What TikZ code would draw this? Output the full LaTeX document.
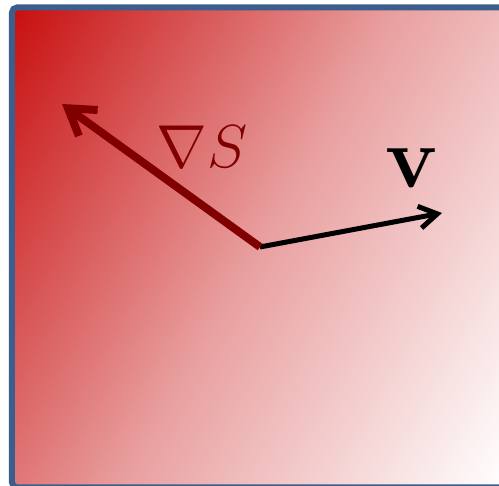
\documentclass[tikz,border=0pt]{standalone}
\usepackage{amsmath}
\usepackage{xcolor}
\usepackage{tikz}
\usetikzlibrary{arrows.meta}
\definecolor{framecol}{RGB}{59,94,140}
\definecolor{gradred}{RGB}{200,16,16}
\definecolor{gradarrow}{RGB}{128,0,0}
% ramp over the whole square once it is turned by 60 degrees
\pgfdeclareverticalshading{fieldshade}{100bp}{color(0bp)=(white); color(16bp)=(white); color(50bp)=(gradred!40); color(84bp)=(gradred); color(100bp)=(gradred)}

\begin{document}
\begin{tikzpicture}
\useasboundingbox (0,0) rectangle (4.99,4.86);
\clip (0,0) rectangle (4.99,4.86);
% field: red towards upper left, fading to white
\shade[shading=fieldshade, shading angle=60] (0.12,-0.015) rectangle (5.05,4.785);
\draw[framecol, line width=0.06cm, rounded corners=0.05cm] (0.12,-0.015) rectangle (5.05,4.785);
\coordinate (o) at (2.60,2.39);
\coordinate (gradtip) at (0.62,3.82);
\coordinate (vtip) at (4.42,2.73);
\draw[black, line width=0.05cm, -{Straight Barb[length=0.18cm,width=0.22cm]}] (o) -- (vtip);
\draw[gradarrow, line width=0.08cm, -{Straight Barb[length=0.25cm,width=0.32cm]}] (o) -- (gradtip);
\node[gradarrow, font=\fontsize{19}{23}\selectfont] (gradlabel) at (2.02,3.39) {$\nabla S$};
\node[font=\fontsize{24}{28}\selectfont] (vlabel) at (4.12,3.18) {$\mathbf{v}$};
\end{tikzpicture}
\end{document}
